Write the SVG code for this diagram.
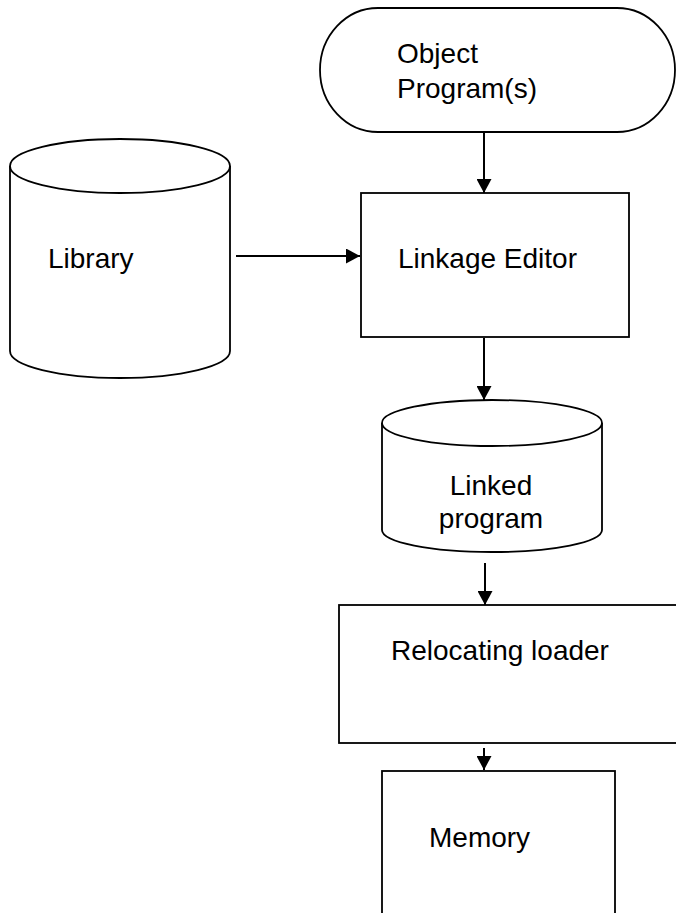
<svg xmlns="http://www.w3.org/2000/svg" width="676" height="913" viewBox="0 0 676 913">
<style>
.s{fill:#fff;stroke:#000;stroke-width:1.8}
.t{font-family:"Liberation Sans",Arial,sans-serif;font-size:28px;fill:#000}
.c{fill:none;stroke:#000;stroke-width:2}
</style>
<defs>
<marker id="ah" markerUnits="userSpaceOnUse" markerWidth="15" markerHeight="15" viewBox="0 0 15 15" refX="14" refY="7.5" orient="auto">
<path d="M0,0 L14,7.5 L0,15 Z" fill="#000"/>
</marker>
</defs>
<rect width="676" height="913" fill="#fff"/>
<g id="object-program">
<rect class="s" x="320" y="8" width="355" height="124" rx="58" ry="62"/>
<text class="t" x="397" y="63">Object</text>
<text class="t" x="397" y="98">Program(s)</text>
</g>
<g id="library">
<path class="s" d="M10,166 L10,351 A110,27 0 0 0 230,351 L230,166"/>
<ellipse class="s" cx="120" cy="166" rx="110" ry="27"/>
<text class="t" x="48" y="268">Library</text>
</g>
<g id="linkage-editor">
<rect class="s" x="361" y="193" width="268" height="144"/>
<text class="t" x="398" y="268">Linkage Editor</text>
</g>
<g id="linked-program">
<path class="s" d="M382,423 L382,530 A110,22 0 0 0 602,530 L602,423"/>
<ellipse class="s" cx="492" cy="423" rx="110" ry="23"/>
<text class="t" x="491" y="495" text-anchor="middle">Linked</text>
<text class="t" x="491" y="528" text-anchor="middle">program</text>
</g>
<g id="relocating-loader">
<rect class="s" x="339" y="605" width="345" height="138"/>
<text class="t" x="391" y="660">Relocating loader</text>
</g>
<g id="memory">
<rect class="s" x="382" y="771" width="233" height="150"/>
<text class="t" x="429" y="847">Memory</text>
</g>
<g id="connectors">
<line class="c" x1="484" y1="132" x2="484" y2="193" marker-end="url(#ah)"/>
<line class="c" x1="236" y1="256" x2="360" y2="256" marker-end="url(#ah)"/>
<line class="c" x1="484" y1="338" x2="484" y2="400" marker-end="url(#ah)"/>
<line class="c" x1="485" y1="563" x2="485" y2="605" marker-end="url(#ah)"/>
<line class="c" x1="484" y1="748" x2="484" y2="770" marker-end="url(#ah)"/>
</g>
</svg>
